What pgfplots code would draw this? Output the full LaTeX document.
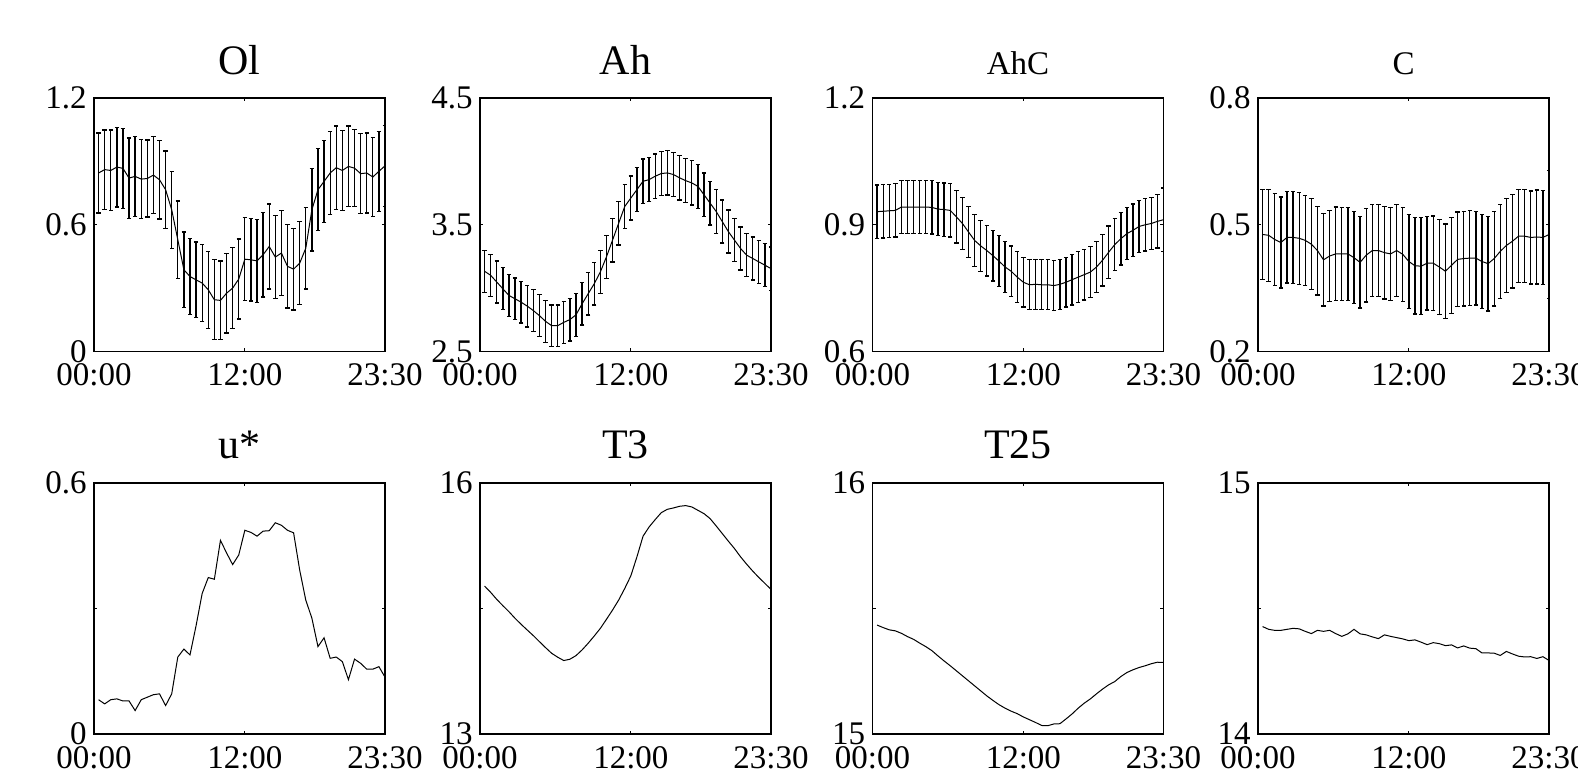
\documentclass[border=0pt]{standalone}
\usepackage{pgfplots}
\usepackage{pgfplotstable}
\pgfplotsset{compat=1.18}
\usepackage{fontspec}
\setmainfont{Liberation Serif}

\pgfplotstableread{
x y e
0 0.845 0.190
1 0.861 0.188
2 0.857 0.191
3 0.873 0.189
4 0.867 0.189
5 0.821 0.190
6 0.829 0.189
7 0.816 0.186
8 0.819 0.182
9 0.835 0.182
10 0.813 0.186
11 0.766 0.183
12 0.671 0.182
13 0.529 0.183
14 0.387 0.179
15 0.355 0.180
16 0.339 0.179
17 0.324 0.183
18 0.292 0.183
19 0.245 0.189
20 0.242 0.186
21 0.276 0.189
22 0.300 0.192
23 0.343 0.189
24 0.437 0.196
25 0.434 0.195
26 0.429 0.197
27 0.458 0.200
28 0.497 0.201
29 0.447 0.197
30 0.466 0.201
31 0.403 0.197
32 0.390 0.193
33 0.418 0.196
34 0.489 0.193
35 0.671 0.195
36 0.766 0.194
37 0.805 0.195
38 0.845 0.197
39 0.870 0.197
40 0.857 0.190
41 0.876 0.191
42 0.868 0.183
43 0.842 0.189
44 0.845 0.189
45 0.826 0.188
46 0.853 0.189
47 0.879 0.191
}\tOl

\pgfplotstableread{
x y e
0 3.133 0.165
1 3.101 0.165
2 3.048 0.165
3 2.995 0.165
4 2.942 0.165
5 2.916 0.165
6 2.889 0.165
7 2.858 0.165
8 2.823 0.165
9 2.783 0.165
10 2.738 0.165
11 2.704 0.163
12 2.704 0.163
13 2.730 0.165
14 2.752 0.168
15 2.789 0.168
16 2.876 0.168
17 2.956 0.168
18 3.035 0.168
19 3.128 0.170
20 3.247 0.170
21 3.379 0.172
22 3.512 0.172
23 3.644 0.172
24 3.711 0.174
25 3.777 0.174
26 3.843 0.175
27 3.856 0.175
28 3.883 0.175
29 3.904 0.175
30 3.909 0.175
31 3.896 0.175
32 3.870 0.175
33 3.848 0.175
34 3.830 0.175
35 3.803 0.175
36 3.737 0.172
37 3.671 0.172
38 3.605 0.172
39 3.525 0.170
40 3.446 0.170
41 3.379 0.170
42 3.313 0.170
43 3.260 0.170
44 3.234 0.170
45 3.207 0.170
46 3.181 0.170
47 3.154 0.170
}\tAh

\pgfplotstableread{
x y e
0 0.931 0.063
1 0.932 0.063
2 0.933 0.063
3 0.934 0.063
4 0.942 0.063
5 0.942 0.063
6 0.942 0.063
7 0.942 0.063
8 0.942 0.063
9 0.941 0.063
10 0.937 0.063
11 0.936 0.063
12 0.934 0.063
13 0.919 0.062
14 0.903 0.062
15 0.883 0.061
16 0.863 0.061
17 0.850 0.060
18 0.839 0.060
19 0.827 0.060
20 0.814 0.060
21 0.800 0.060
22 0.790 0.060
23 0.776 0.060
24 0.764 0.059
25 0.758 0.059
26 0.759 0.059
27 0.758 0.059
28 0.758 0.059
29 0.756 0.059
30 0.759 0.059
31 0.764 0.059
32 0.770 0.060
33 0.776 0.060
34 0.782 0.060
35 0.788 0.060
36 0.800 0.061
37 0.816 0.061
38 0.835 0.062
39 0.853 0.062
40 0.867 0.062
41 0.879 0.062
42 0.887 0.062
43 0.896 0.062
44 0.900 0.062
45 0.903 0.062
46 0.908 0.063
47 0.912 0.075
}\tAhC

\pgfplotstableread{
x y e
0 0.477 0.107
1 0.475 0.109
2 0.465 0.109
3 0.458 0.108
4 0.470 0.108
5 0.470 0.109
6 0.468 0.109
7 0.463 0.106
8 0.454 0.108
9 0.439 0.105
10 0.417 0.109
11 0.426 0.108
12 0.431 0.111
13 0.431 0.110
14 0.431 0.110
15 0.422 0.109
16 0.411 0.108
17 0.428 0.111
18 0.439 0.109
19 0.439 0.109
20 0.434 0.110
21 0.431 0.110
22 0.439 0.109
23 0.430 0.111
24 0.413 0.111
25 0.403 0.114
26 0.402 0.115
27 0.409 0.111
28 0.409 0.112
29 0.400 0.112
30 0.390 0.112
31 0.404 0.114
32 0.418 0.112
33 0.420 0.112
34 0.421 0.112
35 0.421 0.111
36 0.413 0.112
37 0.408 0.112
38 0.420 0.112
39 0.437 0.111
40 0.451 0.111
41 0.461 0.111
42 0.473 0.110
43 0.473 0.110
44 0.470 0.110
45 0.471 0.111
46 0.470 0.111
47 0.477 0.151
}\tC

\pgfplotstableread{
x y
0 0.082
1 0.072
2 0.082
3 0.084
4 0.079
5 0.079
6 0.056
7 0.082
8 0.088
9 0.094
10 0.096
11 0.068
12 0.096
13 0.184
14 0.203
15 0.189
16 0.259
17 0.336
18 0.374
19 0.370
20 0.463
21 0.433
22 0.405
23 0.428
24 0.487
25 0.482
26 0.473
27 0.485
28 0.486
29 0.505
30 0.499
31 0.487
32 0.481
33 0.392
34 0.320
35 0.277
36 0.209
37 0.230
38 0.181
39 0.184
40 0.173
41 0.130
42 0.179
43 0.169
44 0.155
45 0.155
46 0.161
47 0.136
}\tU

\pgfplotstableread{
x y
0 14.768
1 14.693
2 14.609
3 14.534
4 14.462
5 14.383
6 14.311
7 14.243
8 14.176
9 14.104
10 14.033
11 13.965
12 13.918
13 13.878
14 13.894
15 13.937
16 14.005
17 14.085
18 14.172
19 14.263
20 14.371
21 14.482
22 14.601
23 14.740
24 14.891
25 15.118
26 15.364
27 15.475
28 15.563
29 15.646
30 15.686
31 15.702
32 15.722
33 15.730
34 15.714
35 15.674
36 15.634
37 15.575
38 15.487
39 15.396
40 15.305
41 15.217
42 15.118
43 15.030
44 14.947
45 14.871
46 14.800
47 14.728
}\tTthree

\pgfplotstableread{
x y
0 15.434
1 15.424
2 15.415
3 15.411
4 15.401
5 15.388
6 15.377
7 15.362
8 15.348
9 15.332
10 15.311
11 15.291
12 15.272
13 15.252
14 15.232
15 15.212
16 15.192
17 15.172
18 15.152
19 15.134
20 15.117
21 15.103
22 15.091
23 15.081
24 15.068
25 15.057
26 15.046
27 15.034
28 15.033
29 15.040
30 15.041
31 15.060
32 15.080
33 15.103
34 15.123
35 15.140
36 15.160
37 15.179
38 15.196
39 15.209
40 15.229
41 15.245
42 15.256
43 15.265
44 15.272
45 15.280
46 15.286
47 15.285
}\tTtwentyfive

\pgfplotstableread{
x y
0 14.428
1 14.417
2 14.413
3 14.413
4 14.417
5 14.421
6 14.419
7 14.409
8 14.400
9 14.413
10 14.409
11 14.413
12 14.400
13 14.389
14 14.399
15 14.417
16 14.399
17 14.395
18 14.387
19 14.380
20 14.395
21 14.389
22 14.384
23 14.379
24 14.372
25 14.375
26 14.366
27 14.356
28 14.364
29 14.360
30 14.352
31 14.355
32 14.343
33 14.351
34 14.342
35 14.340
36 14.323
37 14.323
38 14.322
39 14.313
40 14.329
41 14.319
42 14.310
43 14.307
44 14.308
45 14.301
46 14.308
47 14.293
}\tLast

\pgfplotsset{
  myax/.style={
    scale only axis, width=145.5pt, anchor=south west,
    xmin=-0.75, xmax=47,
    xtick={-0.75,24,47}, xticklabels={00:00,12:00,23:30},
    tick align=inside, major tick length=1.6pt,
    axis line style={line width=0.65pt},
    every tick/.style={black, line width=0.5pt},
    /pgf/number format/assume math mode=true,
    tick label style={font=\fontsize{16.5}{16.5}\selectfont},
    xticklabel style={inner sep=0pt, anchor=north, yshift=-6pt},
    yticklabel style={inner sep=0pt, anchor=east, xshift=-3.5pt},
    title style={at={(0.5,1)}, anchor=base, yshift=6pt, inner sep=0pt,
      font=\fontsize{21}{21}\selectfont},
  },
  toprow/.style={myax, height=126.75pt},
  botrow/.style={myax, height=125.5pt},
  eb/.style={black, line width=0.5pt, no markers,
    error bars/.cd, y dir=both, y explicit,
    error bar style={line width=0.65pt, black},
    error mark options={rotate=90, mark size=1.1pt, line width=0.65pt, black}},
  ln/.style={black, line width=0.5pt, no markers},
}

\begin{document}
\begin{tikzpicture}
% top row
\begin{axis}[toprow, at={(47pt,210.75pt)}, title={Ol},
  ymin=0, ymax=1.2, ytick={0,0.6,1.2}, yticklabels={0,0.6,1.2}]
\addplot[eb] table[x=x,y=y,y error=e]{\tOl};
\end{axis}
\begin{axis}[toprow, at={(240pt,210.75pt)}, title={Ah},
  ymin=2.5, ymax=4.5, ytick={2.5,3.5,4.5}, yticklabels={2.5,3.5,4.5}]
\addplot[eb] table[x=x,y=y,y error=e]{\tAh};
\end{axis}
\begin{axis}[toprow, at={(436.25pt,210.75pt)}, title={AhC},
  title style={font=\fontsize{16.5}{16.5}\selectfont},
  ymin=0.6, ymax=1.2, ytick={0.6,0.9,1.2}, yticklabels={0.6,0.9,1.2}]
\addplot[eb] table[x=x,y=y,y error=e]{\tAhC};
\end{axis}
\begin{axis}[toprow, at={(629pt,210.75pt)}, title={C},
  title style={font=\fontsize{16.5}{16.5}\selectfont},
  ymin=0.2, ymax=0.8, ytick={0.2,0.5,0.8}, yticklabels={0.2,0.5,0.8}]
\addplot[eb] table[x=x,y=y,y error=e]{\tC};
\end{axis}
% bottom row
\begin{axis}[botrow, at={(47pt,19.5pt)}, title={u*},
  title style={yshift=0.5pt},
  ymin=0, ymax=0.6, ytick={0,0.3,0.6}, yticklabels={0,,0.6}]
\addplot[ln] table[x=x,y=y]{\tU};
\end{axis}
\begin{axis}[botrow, at={(240pt,19.5pt)}, title={T3},
  title style={yshift=0.5pt},
  ymin=13, ymax=16, ytick={13,14.5,16}, yticklabels={13,,16}]
\addplot[ln] table[x=x,y=y]{\tTthree};
\end{axis}
\begin{axis}[botrow, at={(436.25pt,19.5pt)}, title={T25},
  title style={yshift=0.5pt},
  ymin=15, ymax=16, ytick={15,15.5,16}, yticklabels={15,,16}]
\addplot[ln] table[x=x,y=y]{\tTtwentyfive};
\end{axis}
\begin{axis}[botrow, at={(629pt,19.5pt)},
  ymin=14, ymax=15, ytick={14,14.5,15}, yticklabels={14,,15}]
\addplot[ln] table[x=x,y=y]{\tLast};
\end{axis}
\pgfresetboundingbox
\useasboundingbox (0,0) rectangle (789pt,386.5pt);
\end{tikzpicture}
\end{document}
